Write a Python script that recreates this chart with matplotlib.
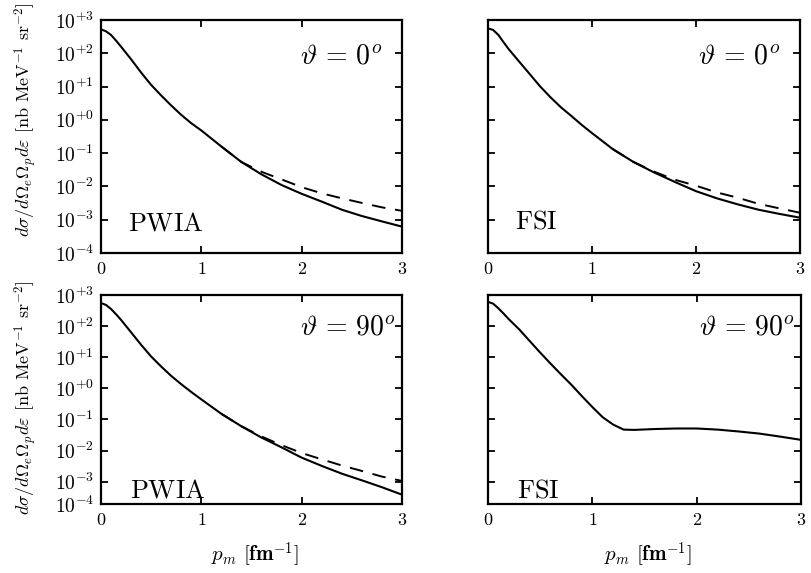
import matplotlib
matplotlib.use("Agg")
import matplotlib.pyplot as plt
import numpy as np

plt.rcParams['mathtext.fontset'] = 'cm'
plt.rcParams['font.family'] = ['cmr10', 'DejaVu Sans']
plt.rcParams['axes.unicode_minus'] = False

# ---------------- data ----------------
x_tl = [0, 0.05, 0.1, 0.15, 0.2, 0.3, 0.4, 0.5, 0.6, 0.7, 0.8, 0.9, 1.0, 1.2, 1.4,
        1.6, 1.8, 2.0, 2.2, 2.4, 2.6, 2.8, 3.0]
pwia0_solid = [525, 457, 355, 240, 158, 66, 26.3, 11.2, 5.4, 2.7, 1.41, 0.79, 0.48, 0.158,
               0.054, 0.023, 0.011, 6.0e-3, 3.5e-3, 2.0e-3, 1.29e-3, 8.9e-4, 6.2e-4]
x_dash = [1.2, 1.4, 1.6, 1.8, 2.0, 2.2, 2.4, 2.6, 2.8, 3.0]
pwia0_dash = [0.158, 0.054, 0.0275, 0.0162, 9.5e-3, 6.2e-3, 4.4e-3, 3.2e-3, 2.35e-3, 1.85e-3]

x_tr = x_tl
fsi0_solid = [562, 501, 355, 214, 132, 56, 24, 10.2, 4.8, 2.4, 1.32, 0.71, 0.40, 0.132,
              0.054, 0.026, 0.0135, 7.2e-3, 4.4e-3, 2.9e-3, 2.0e-3, 1.5e-3, 1.15e-3]
fsi0_dash = [0.132, 0.054, 0.0275, 0.0158, 0.0105, 6.6e-3, 4.6e-3, 3.0e-3, 2.2e-3, 1.62e-3]

x_bl = x_tl
pwia90_solid = [550, 479, 355, 240, 158, 63, 25, 10.5, 5.0, 2.5, 1.35, 0.76, 0.44, 0.151,
                0.060, 0.026, 0.0126, 5.9e-3, 3.2e-3, 1.8e-3, 1.1e-3, 6.6e-4, 3.8e-4]
pwia90_dash = [0.151, 0.060, 0.0282, 0.0148, 8.3e-3, 5.2e-3, 3.3e-3, 2.2e-3, 1.45e-3, 1.05e-3]

x_br = [0, 0.05, 0.1, 0.15, 0.2, 0.3, 0.4, 0.5, 0.6, 0.7, 0.8, 0.9, 1.0, 1.1, 1.2, 1.3,
        1.4, 1.6, 1.8, 2.0, 2.2, 2.4, 2.6, 2.8, 3.0]
fsi90_solid = [603, 525, 372, 251, 166, 78, 33, 14.1, 6.2, 2.8, 1.29, 0.56, 0.25, 0.117,
               0.068, 0.047, 0.046, 0.049, 0.051, 0.051, 0.047, 0.041, 0.035, 0.028, 0.022]

xticks = [0, 1, 2, 3]
xticklabels = [r'$\mathbf{0}$', r'$\mathbf{1}$', r'$\mathbf{2}$', r'$\mathbf{3}$']
ydecades = [3, 2, 1, 0, -1, -2, -3, -4]
yticklabels = [r'$10^{+3}$', r'$10^{+2}$', r'$10^{+1}$', r'$10^{+0}$',
               r'$10^{-1}$', r'$10^{-2}$', r'$10^{-3}$', r'$10^{-4}$']
angle_labels = [r'$\vartheta\,=\,0^o$', r'$\vartheta\,=\,90^o$']
model_labels = [r'$\mathrm{PWIA}$', r'$\mathrm{FSI}$']
ylabel = r'$d\sigma/d\Omega_e\Omega_p d\varepsilon$ [nb MeV$^{-1}$ sr$^{-2}$]'
xlabel = r'$p_m$ [$\mathbf{fm}^{-1}$]'

# ---------------- figure ----------------
W, H = 812, 573
fig = plt.figure(figsize=(W / 100, H / 100), dpi=100)


def px_axes(x0, y0, x1, y1):
    return fig.add_axes([x0 / W, 1 - y1 / H, (x1 - x0) / W, (y1 - y0) / H])


ax_tl = px_axes(101, 20, 402, 253)
ax_tr = px_axes(488, 20, 800, 253)
ax_bl = px_axes(101, 295, 402, 504)
ax_br = px_axes(488, 295, 801, 504)

bottom_lim = {0: 1e-4, 1: 10 ** -3.72}

panels = [
    (ax_tl, 0, 0, [(x_tl, pwia0_solid, '-'), (x_dash, pwia0_dash, '--')]),
    (ax_tr, 0, 1, [(x_tr, fsi0_solid, '-'), (x_dash, fsi0_dash, '--')]),
    (ax_bl, 1, 0, [(x_bl, pwia90_solid, '-'), (x_dash, pwia90_dash, '--')]),
    (ax_br, 1, 1, [(x_br, fsi90_solid, '-')]),
]

angle_x = {0: 0.66, 1: 0.673}
model_pos = {(0, 0): (0.09, 0.125), (0, 1): (0.087, 0.133),
             (1, 0): (0.095, 0.062), (1, 1): (0.093, 0.062)}

for ax, row, col, series in panels:
    for xs, ys, ls in series:
        if ls == '--':
            ax.plot(xs, ys, color='black', lw=1.4, ls=(0, (7, 5)), zorder=2)
        else:
            ax.plot(xs, ys, color='black', lw=1.5, ls='-', zorder=3)
    ax.set_yscale('log')
    ax.set_xlim(0, 3)
    ylo = bottom_lim[row]
    ax.set_ylim(ylo, 1e3)
    ypos = [10.0 ** d for d in ydecades[:-1]] + [ylo]
    ax.set_yticks(ypos)
    ax.yaxis.set_minor_locator(matplotlib.ticker.NullLocator())
    if col == 0:
        ax.set_yticklabels(yticklabels, fontsize=14)
    else:
        ax.set_yticklabels([])
    ax.set_xticks(xticks)
    ax.set_xticklabels(xticklabels, fontsize=13)
    ax.tick_params(direction='in', length=5, width=1.3, top=True, right=True)
    ax.tick_params(axis='x', pad=6)
    ax.tick_params(axis='y', pad=5)
    for s in ax.spines.values():
        s.set_linewidth(1.6)
    ax.text(angle_x[col], 0.845, angle_labels[row], transform=ax.transAxes,
            ha='left', va='center', fontsize=20)
    mx, my = model_pos[(row, col)]
    ax.text(mx, my, model_labels[col], transform=ax.transAxes,
            ha='left', va='center', fontsize=19)

fig.text(26 / W, 1 - 120 / H, ylabel, rotation=90, ha='center', va='center', fontsize=13)
fig.text(26 / W, 1 - 398 / H, ylabel, rotation=90, ha='center', va='center', fontsize=13)
fig.text(255 / W, 1 - 555 / H, xlabel, ha='center', va='center', fontsize=15)
fig.text(648 / W, 1 - 555 / H, xlabel, ha='center', va='center', fontsize=15)

fig.savefig('out.png', dpi=100, facecolor='white')
